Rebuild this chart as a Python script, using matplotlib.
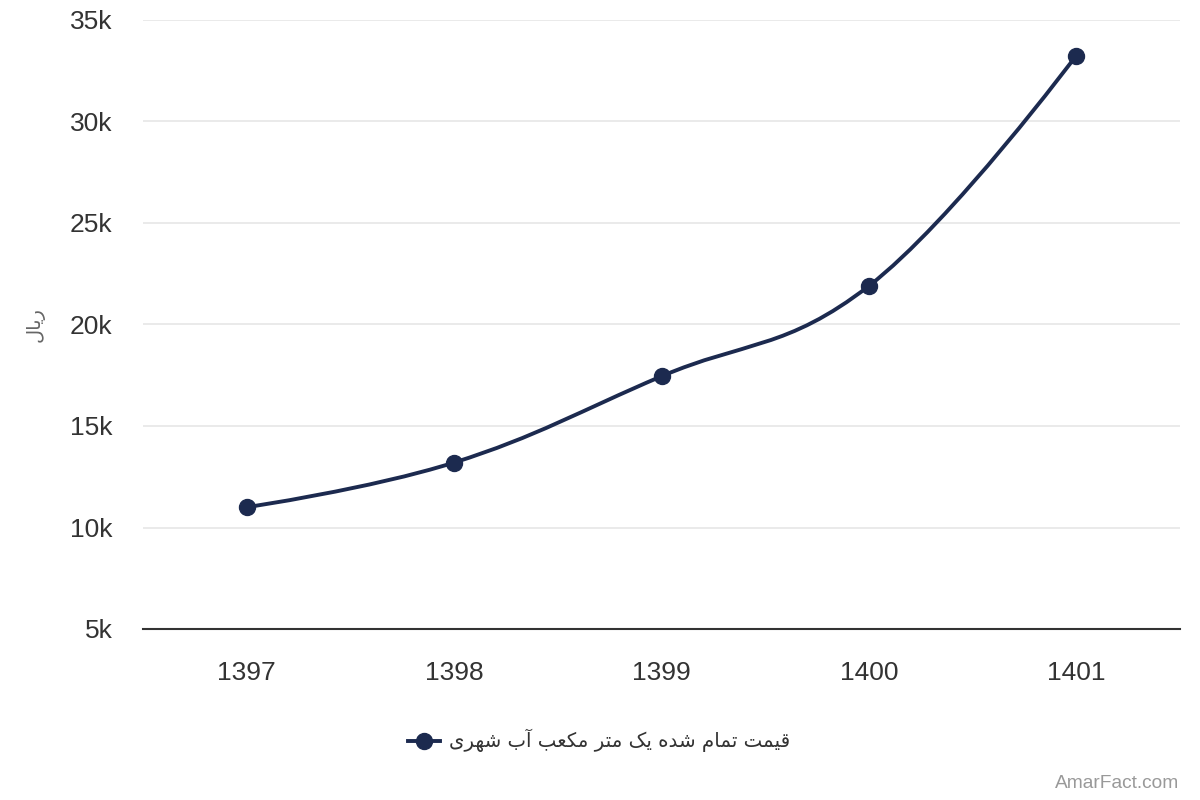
import matplotlib
matplotlib.use("Agg")
import matplotlib.pyplot as plt
from matplotlib.path import Path
from matplotlib.patches import PathPatch
from matplotlib.lines import Line2D
import numpy as np

# ---- data ----
categories = ["1397", "1398", "1399", "1400", "1401"]
values = [11000, 13200, 17450, 21900, 33250]
y_ticks = [5000, 10000, 15000, 20000, 25000, 30000, 35000]
y_tick_labels = ["5k", "10k", "15k", "20k", "25k", "30k", "35k"]
series_name = "قیمت تمام شده یک متر مکعب آب شهری"
y_title = "ریال"
credit = "AmarFact.com"

# ---- minimal Persian shaping (matplotlib has no complex text layout) ----
# letter: (isolated, final, initial, medial); None for initial/medial = non-joining to the left
FORMS = {
    "ا": ("\uFE8D", "\uFE8E", None, None),
    "آ": ("\uFE81", "\uFE82", None, None),
    "ب": ("\uFE8F", "\uFE90", "\uFE91", "\uFE92"),
    "ت": ("\uFE95", "\uFE96", "\uFE97", "\uFE98"),
    "د": ("\uFEA9", "\uFEAA", None, None),
    "ر": ("\uFEAD", "\uFEAE", None, None),
    "ش": ("\uFEB5", "\uFEB6", "\uFEB7", "\uFEB8"),
    "ع": ("\uFEC9", "\uFECA", "\uFECB", "\uFECC"),
    "ق": ("\uFED5", "\uFED6", "\uFED7", "\uFED8"),
    "ک": ("\uFB8E", "\uFB8F", "\uFB90", "\uFB91"),
    "ل": ("\uFEDD", "\uFEDE", "\uFEDF", "\uFEE0"),
    "م": ("\uFEE1", "\uFEE2", "\uFEE3", "\uFEE4"),
    "ه": ("\uFEE9", "\uFEEA", "\uFEEB", "\uFEEC"),
    "ی": ("\uFBFC", "\uFBFD", "\uFBFE", "\uFBFF"),
}


def shape(text):
    out = []
    chars = list(text)
    for i, c in enumerate(chars):
        if c not in FORMS:
            out.append(c)
            continue
        prev = chars[i - 1] if i > 0 else None
        nxt = chars[i + 1] if i + 1 < len(chars) else None
        joins_prev = prev in FORMS and FORMS[prev][2] is not None
        joins_next = nxt in FORMS and FORMS[c][2] is not None
        iso, fin, ini, med = FORMS[c]
        if joins_prev and joins_next:
            out.append(med)
        elif joins_prev:
            out.append(fin)
        elif joins_next:
            out.append(ini)
        else:
            out.append(iso)
    return "".join(out)[::-1]


# ---- Highcharts-like spline ----
def spline_path(xs, ys, smoothing=1.5):
    n = len(xs)
    denom = smoothing + 1
    lc = [(xs[i], ys[i]) for i in range(n)]
    rc = [(xs[i], ys[i]) for i in range(n)]
    for i in range(1, n - 1):
        px, py = xs[i], ys[i]
        lx, ly = xs[i - 1], ys[i - 1]
        nx, ny = xs[i + 1], ys[i + 1]
        lcx = (smoothing * px + lx) / denom
        lcy = (smoothing * py + ly) / denom
        rcx = (smoothing * px + nx) / denom
        rcy = (smoothing * py + ny) / denom
        if rcx != lcx:
            corr = (rcy - lcy) * (rcx - px) / (rcx - lcx) + py - rcy
            lcy += corr
            rcy += corr
            if lcy > ly and lcy > py:
                lcy = max(ly, py); rcy = 2 * py - lcy
            elif lcy < ly and lcy < py:
                lcy = min(ly, py); rcy = 2 * py - lcy
            if rcy > ny and rcy > py:
                rcy = max(ny, py); lcy = 2 * py - rcy
            elif rcy < ny and rcy < py:
                rcy = min(ny, py); lcy = 2 * py - rcy
        lc[i] = (lcx, lcy)
        rc[i] = (rcx, rcy)
    verts = [(xs[0], ys[0])]
    codes = [Path.MOVETO]
    for i in range(1, n):
        verts += [rc[i - 1], lc[i], (xs[i], ys[i])]
        codes += [Path.CURVE4] * 3
    return Path(verts, codes)


plt.rcParams["font.family"] = ["Liberation Sans", "DejaVu Sans"]

fig = plt.figure(figsize=(12, 8), dpi=100)
ax = fig.add_axes([143 / 1200, 1 - 629 / 800, (1180 - 143) / 1200, (629 - 20) / 800])

line_color = "#1c2a4f"
x = np.arange(len(categories))

ax.add_patch(PathPatch(spline_path(list(x), values), facecolor="none",
                       edgecolor=line_color, lw=2.8, zorder=3, capstyle="round",
                       joinstyle="round"))
ax.plot(x, values, linestyle="none", marker="o", markersize=11.5,
        color=line_color, zorder=4, clip_on=False)

ax.set_xlim(-0.5, len(categories) - 0.5)
ax.set_ylim(5000, 35000)
ax.set_yticks(y_ticks)
ax.set_yticklabels(y_tick_labels)
ax.set_xticks(x)
ax.set_xticklabels(categories)

ax.grid(axis="y", color="#e6e6e6", lw=1.2)
ax.set_axisbelow(True)
for s in ["top", "right", "left"]:
    ax.spines[s].set_visible(False)
ax.spines["bottom"].set_color("#333333")
ax.spines["bottom"].set_linewidth(1.5)
ax.tick_params(axis="both", length=0, labelsize=19, colors="#333333")
ax.tick_params(axis="x", pad=23)
ax.tick_params(axis="y", pad=22)

fig.text(35 / 1200, 1 - 325 / 800, shape(y_title), rotation=90, ha="center",
         va="center", fontsize=14, color="#666666", family=["DejaVu Sans"])

# legend
fig.text(790 / 1200, 1 - 740 / 800, shape(series_name), ha="right", va="center",
         fontsize=14.2, color="#333333", family=["DejaVu Sans"])
leg_y = 1 - 741 / 800
fig.add_artist(Line2D([408 / 1200, 440 / 1200], [leg_y, leg_y], color=line_color,
                      lw=2.8, marker=None, transform=fig.transFigure))
fig.add_artist(Line2D([424 / 1200], [leg_y], color=line_color, marker="o",
                      markersize=11.5, transform=fig.transFigure))

fig.text(1179 / 1200, 1 - 783 / 800, credit, ha="right", va="center",
         fontsize=13.8, color="#999999")

fig.savefig("out.png", dpi=100, facecolor="white")
